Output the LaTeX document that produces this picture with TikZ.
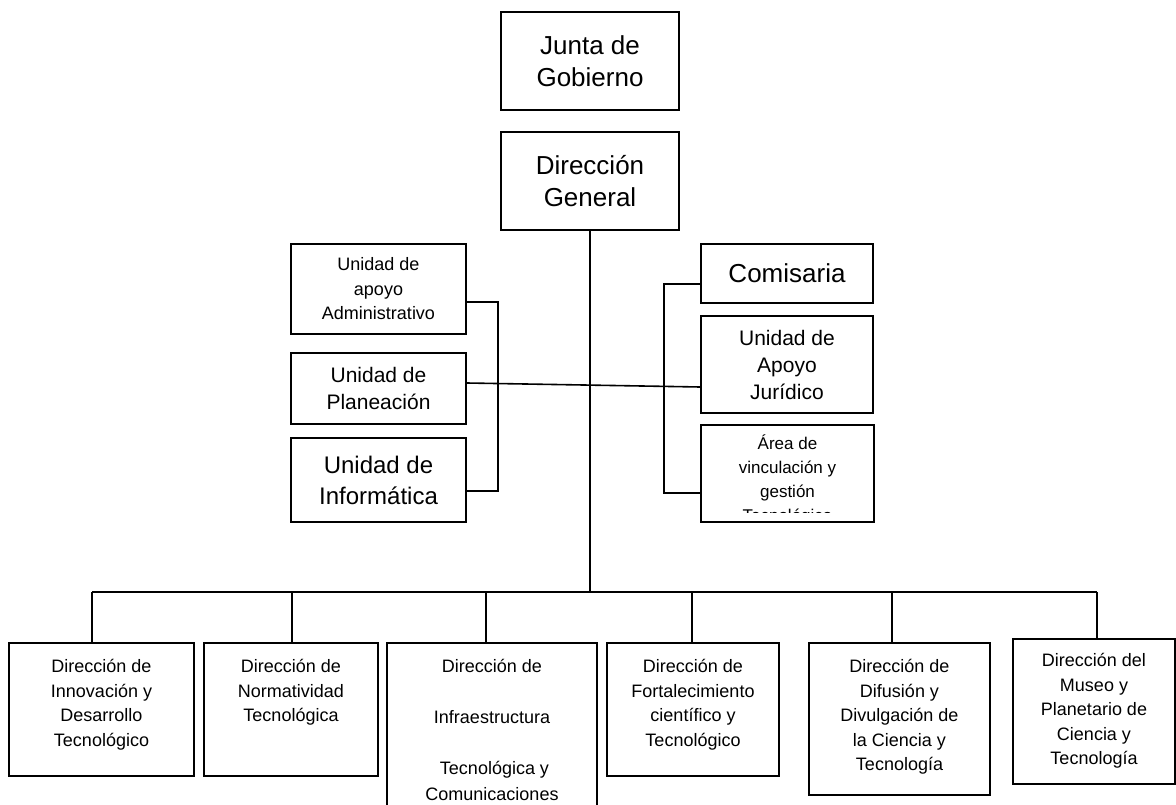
\documentclass[tikz,border=0pt]{standalone}
\usepackage{fontspec}
\setmainfont{Liberation Sans}
\tikzset{
  orgbox/.style={draw, line width=1.6pt, inner sep=0pt, align=center},
  topbox/.style n args={3}{orgbox, minimum width=#1pt, text height=#2pt, text depth=#3pt},
  wire/.style={line width=1.6pt},
  bigtxt/.style={font=\fontsize{26}{32}\selectfont},
  infotxt/.style={font=\fontsize{24}{31}\selectfont},
  midtxt/.style={font=\fontsize{21}{27}\selectfont},
  smalltxt/.style={font=\fontsize{18}{24.5}\selectfont},
  tinytxt/.style={font=\fontsize{17}{24}\selectfont}
}
\begin{document}
\begin{tikzpicture}[x=1pt, y=-1pt]
  \clip (0,0) rectangle (1176,805);
  \fill[white] (0,0) rectangle (1176,805);

  % top of the chart
  \node[orgbox, bigtxt, minimum width=178pt, minimum height=98pt] (junta) at (590,61) {Junta de\\Gobierno};
  \node[orgbox, bigtxt, minimum width=178pt, minimum height=98pt] (dg) at (590,181) {Dirección\\General};

  % units on the left
  \node[orgbox, smalltxt, minimum width=175pt, minimum height=90pt] (admin) at (378.5,289) {Unidad de\\apoyo\\Administrativo};
  \node[orgbox, midtxt, minimum width=175pt, minimum height=71pt] (plan) at (378.5,388.5) {Unidad de\\Planeación};
  \node[orgbox, infotxt, minimum width=175pt, minimum height=84pt] (info) at (378.5,480) {Unidad de\\Informática};

  % units on the right
  \node[orgbox, bigtxt, minimum width=172pt, minimum height=59pt] (com) at (787,273.5) {Comisaria};
  \node[orgbox, midtxt, minimum width=172pt, minimum height=97pt] (jur) at (787,364.5) {Unidad de\\Apoyo\\Jurídico};
  \begin{scope}
    \clip (701,425) rectangle (875,512);
    \node[topbox={173}{96}{1}, draw=none, tinytxt] (areatext) at (787.5,473.5) {Área de\\vinculación y\\gestión\\Tecnológica};
  \end{scope}
  \node[topbox={173}{96}{1}] (area) at (787.5,473.5) {};

  % direcciones
  \node[topbox={185}{103}{30}, smalltxt] (b1) at (101.5,709.5) {Dirección de\\Innovación y\\Desarrollo\\Tecnológico};
  \node[topbox={174}{78.5}{54.5}, smalltxt] (b2) at (291,709.5) {Dirección de\\Normatividad\\Tecnológica};
  \node[topbox={210}{157}{30}, font=\fontsize{18}{25.5}\selectfont] (b3) at (492,736.5) {Dirección de\\[25.5pt]Infraestructura\\[25.5pt]\ Tecnológica y\\Comunicaciones};
  \node[topbox={172}{103}{30}, smalltxt] (b4) at (693,709.5) {Dirección de\\Fortalecimiento\\científico y\\Tecnológico};
  \node[topbox={181}{127.5}{24.5}, smalltxt] (b5) at (899.5,719) {Dirección de\\Difusión y\\Divulgación de\\la Ciencia y\\Tecnología};
  \node[topbox={162}{125.5}{19.5}, smalltxt] (b6) at (1094,711.5) {Dirección del\\Museo y\\Planetario de\\Ciencia y\\Tecnología};

  % connectors
  \draw[wire] ([yshift=-13pt]admin.east) -- ++(31,0) |- ([yshift=-11pt]info.east);
  \draw[wire] ([yshift=-10.5pt]com.west) -- ++(-36,0) |- ([yshift=-19.5pt]area.west);
  \draw[wire] ([yshift=5.5pt]plan.east) -- ([yshift=-22.5pt]jur.west);

  \coordinate (busl) at (92,592);
  \coordinate (busr) at (1097,592);
  \draw[wire] (dg.south) -- (dg.south |- busl);
  \draw[wire] (busl) -- (busr);
  \foreach \b/\dx in {b1/-9.5, b2/1, b3/-6, b4/-1, b5/-7.5, b6/3}
    \draw[wire] ([xshift=\dx pt]\b.north) -- ([xshift=\dx pt]\b.north |- busl);
\end{tikzpicture}
\end{document}
